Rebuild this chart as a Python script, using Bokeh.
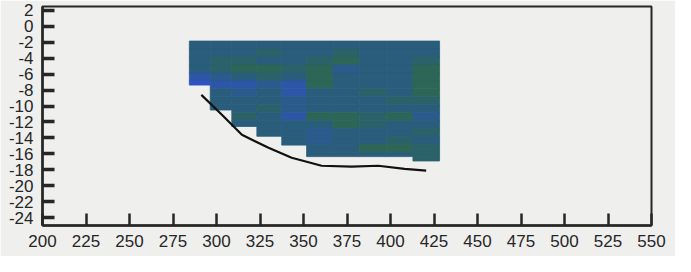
from bokeh.plotting import figure
from bokeh.models import FixedTicker, LinearColorMapper, ColumnDataSource, Range1d
from bokeh.embed import file_html
from bokeh.resources import INLINE

# ---- data ----
# column (station) edges along x
X_EDGES = [284.4, 296.4, 308.8, 323.2, 337.5, 351.8, 367.0, 382.0, 397.5, 412.9, 428.2]
# bottom depth reached by each column
COL_BOTTOM = [-7.37, -10.5, -12.57, -13.8, -14.9, -16.35, -16.35, -16.35, -16.35, -16.9]
# depth bin edges (top to bottom)
DEPTH_EDGES = [-1.84, -2.84, -3.84, -4.84, -5.84, -6.84, -7.84, -8.84, -9.84,
               -10.84, -11.84, -12.84, -13.84, -14.84, -15.84, -16.9]
# cell values per depth row (top to bottom), per column
VALUES = [
    [0.50, 0.48, 0.50, 0.52, 0.50, 0.55, 0.50, 0.48, 0.50, 0.52],
    [0.45, 0.55, 0.50, 0.60, 0.55, 0.50, 0.60, 0.50, 0.50, 0.55],
    [0.50, 0.62, 0.60, 0.55, 0.50, 0.60, 0.80, 0.55, 0.50, 0.60],
    [0.45, 0.60, 0.75, 0.75, 0.60, 0.85, 0.30, 0.50, 0.50, 0.80],
    [0.15, 0.30, 0.55, 0.60, 0.50, 0.85, 0.50, 0.55, 0.50, 0.80],
    [0.10, 0.25, 0.20, 0.35, 0.20, 0.80, 0.50, 0.50, 0.45, 0.75],
    [0.50, 0.50, 0.30, 0.50, 0.20, 0.50, 0.55, 0.70, 0.50, 0.80],
    [0.50, 0.55, 0.50, 0.55, 0.30, 0.45, 0.50, 0.50, 0.60, 0.60],
    [0.50, 0.50, 0.55, 0.60, 0.30, 0.50, 0.45, 0.55, 0.50, 0.50],
    [0.50, 0.60, 0.60, 0.50, 0.25, 0.80, 0.75, 0.70, 0.75, 0.35],
    [0.50, 0.50, 0.50, 0.55, 0.50, 0.55, 0.75, 0.70, 0.55, 0.50],
    [0.50, 0.50, 0.50, 0.50, 0.50, 0.30, 0.50, 0.50, 0.50, 0.60],
    [0.50, 0.50, 0.50, 0.45, 0.50, 0.35, 0.50, 0.55, 0.60, 0.55],
    [0.50, 0.50, 0.50, 0.50, 0.50, 0.45, 0.50, 0.75, 0.75, 0.70],
    [0.50, 0.50, 0.50, 0.50, 0.50, 0.50, 0.50, 0.55, 0.50, 0.60],
]
# bottom profile line
LINE_X = [291.3, 303.1, 314.6, 329.9, 343.2, 360.4, 377.6, 392.9, 408.1, 420.5]
LINE_Y = [-8.6, -11.1, -13.6, -15.25, -16.5, -17.5, -17.6, -17.5, -17.9, -18.1]
# axis ticks
X_TICKS = [200, 225, 250, 275, 300, 325, 350, 375, 400, 425, 450, 475, 500, 525, 550]
Y_TICKS = [2, 0, -2, -4, -6, -8, -10, -12, -14, -16, -18, -20, -22, -24]

PALETTE = ["#3050c4", "#2d56a6", "#2b5a8c", "#2a5d7c", "#2b6269", "#2d6656", "#2f6a44"]
BG = "#efefed"
INK = "#262626"
FONT = "Liberation Sans"

# build cells
left, right, top, bottom, val = [], [], [], [], []
for ci in range(len(X_EDGES) - 1):
    for ri in range(len(DEPTH_EDGES) - 1):
        t = DEPTH_EDGES[ri]
        b = DEPTH_EDGES[ri + 1]
        if t <= COL_BOTTOM[ci]:
            continue
        b = max(b, COL_BOTTOM[ci])
        left.append(X_EDGES[ci]); right.append(X_EDGES[ci + 1])
        top.append(t); bottom.append(b); val.append(VALUES[ri][ci])
src = ColumnDataSource(dict(left=left, right=right, top=top, bottom=bottom, v=val))
mapper = LinearColorMapper(palette=PALETTE, low=0.0, high=1.0)

p = figure(width=675, height=256, output_backend="svg", toolbar_location=None,
           x_range=Range1d(200, 550), y_range=Range1d(-25, 2.5),
           min_border_left=42, min_border_right=24, min_border_top=6, min_border_bottom=31)
p.background_fill_color = BG
p.border_fill_color = BG
p.outline_line_color = INK
p.outline_line_width = 2
p.grid.visible = False

p.quad(left="left", right="right", top="top", bottom="bottom", source=src,
       fill_color={"field": "v", "transform": mapper},
       line_color={"field": "v", "transform": mapper}, line_width=0.8)
p.line(LINE_X, LINE_Y, line_color="#111111", line_width=2.2)

p.xaxis.ticker = FixedTicker(ticks=X_TICKS)
p.yaxis.ticker = FixedTicker(ticks=Y_TICKS)
p.yaxis.major_label_overrides = {t: (str(t) if t >= 0 else "-" + str(-t)) for t in Y_TICKS}
for ax in (p.xaxis[0], p.yaxis[0]):
    ax.axis_line_color = INK
    ax.axis_line_width = 2.5
    ax.major_tick_line_color = INK
    ax.major_tick_out = 0
    ax.major_tick_in = 12
    ax.minor_tick_line_color = None
    ax.major_label_text_font = FONT
    ax.major_label_text_font_size = "17px"
    ax.major_label_text_color = INK
p.xaxis.major_tick_line_width = 2.5
p.yaxis.major_tick_line_width = 3.5
p.xaxis.major_label_standoff = 9
p.yaxis.major_label_standoff = 9

open("out.html", "w").write(file_html(p, INLINE))
